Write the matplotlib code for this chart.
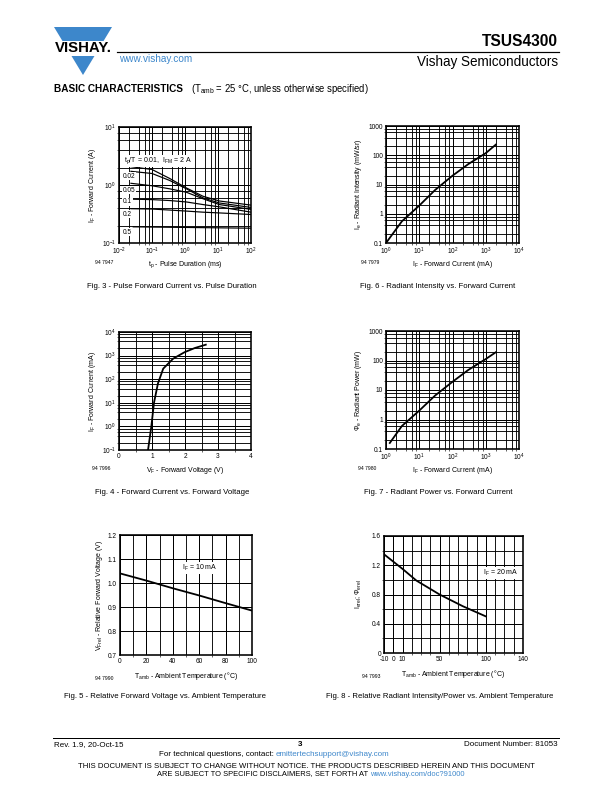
import numpy as np
import matplotlib.pyplot as plt
from matplotlib.patches import Polygon, Rectangle
from matplotlib.lines import Line2D
from matplotlib.ticker import FixedLocator, NullFormatter, FixedFormatter, LogLocator

plt.rcParams['font.family'] = ['Liberation Sans', 'DejaVu Sans']
plt.rcParams['mathtext.fontset'] = 'custom'
plt.rcParams['mathtext.rm'] = 'Liberation Sans'
plt.rcParams['mathtext.it'] = 'Liberation Sans'
plt.rcParams['axes.unicode_minus'] = False

W, H = 612, 792
BLUE = '#3d87cb'
LAB = 7      # axis label size
TICK = 6.5   # tick label size
CAP = 7.8    # caption size

# fig 3 - pulse forward current vs pulse duration
tp = [0.023, 0.1, 0.34, 1.1, 3.5, 11, 100]
if_001 = [2.07, 1.85, 1.30, 0.89, 0.64, 0.53, 0.45]
if_002 = [1.72, 1.58, 1.20, 0.86, 0.60, 0.49, 0.41]
if_005 = [1.07, 0.97, 0.86, 0.75, 0.58, 0.46, 0.38]
if_01 = [0.57, 0.56, 0.54, 0.51, 0.46, 0.42, 0.34]
if_02 = [0.39, 0.385, 0.37, 0.355, 0.34, 0.33, 0.31]
tp_05 = [0.027, 100]
if_05 = [0.19, 0.18]
duty_labels = ['0.02', '0.05', '0.1', '0.2', '0.5']

# fig 6 - radiant intensity vs forward current
ie_if = [1, 3, 10, 30, 100, 300, 1000, 2000]
ie = [0.1, 0.55, 1.9, 6.5, 20, 50, 118, 230]

# fig 4 - forward current vs forward voltage
vf = [0.88, 0.98, 1.06, 1.18, 1.34, 1.64, 1.99, 2.3, 2.63]
if_mA = [0.1, 1.0, 10, 66, 280, 740, 1400, 2100, 2900]

# fig 7 - radiant power vs forward current
pe_if = [1.3, 3, 10, 30, 100, 300, 1000, 2000]
pe = [0.16, 0.6, 2.0, 6.5, 19, 48, 112, 190]

# fig 5 - relative forward voltage vs ambient temperature
t5 = [0, 20, 40, 60, 80, 100]
vf_rel = [1.04, 1.01, 0.978, 0.948, 0.916, 0.885]

# fig 8 - relative radiant intensity/power vs ambient temperature
t8 = [-10, 0, 10, 25, 50, 75, 100]
ie_rel = [1.35, 1.25, 1.15, 0.99, 0.80, 0.64, 0.50]

fig = plt.figure(figsize=(W / 72, H / 72), dpi=72)


def px(x, y):
    return x / W, 1 - y / H


def axes_px(l, t, r, b):
    ax = fig.add_axes([l / W, 1 - b / H, (r - l) / W, (b - t) / H])
    for s in ax.spines.values():
        s.set_linewidth(1.6)
    ax.tick_params(length=0, labelsize=TICK, pad=3)
    ax.grid(True, which='major', color='black', lw=1.0)
    ax.grid(True, which='minor', color='black', lw=0.9)
    ax.set_axisbelow(True)
    return ax


def log_grid(axis):
    # datasheet grids only draw 2, 4, 6, 8 within each decade
    axis.set_minor_locator(LogLocator(base=10, subs=[2, 4, 6, 8], numticks=20))
    axis.set_minor_formatter(NullFormatter())


def ftext(x, y, s, **kw):
    fig.text(*px(x, y), s, **kw)


# ---- header ----
fig.patches.append(Polygon([px(54, 27), px(112, 27), px(83, 75)], closed=True,
                           facecolor=BLUE, edgecolor='none', transform=fig.transFigure))
fig.patches.append(Rectangle(px(50, 56), 64 / W, 15 / H, facecolor='white',
                             edgecolor='none', transform=fig.transFigure))
ftext(83, 48.5, 'VISHAY.', ha='center', va='center', fontsize=15,
      fontweight='bold', color='black')
fig.lines.append(Line2D([117 / W, 559 / W], [1 - 52 / H] * 2, color='black',
                        lw=1.2, transform=fig.transFigure))
ftext(558, 41, 'TSUS4300', ha='right', va='center', fontsize=15.5, fontweight='bold')
ftext(558, 62, 'Vishay Semiconductors', ha='right', va='center', fontsize=13.5)
ftext(119, 59, 'www.vishay.com', ha='left', va='center', fontsize=10, color=BLUE)
ftext(54, 89, 'BASIC CHARACTERISTICS', ha='left', va='center', fontsize=10,
      fontweight='bold')
ftext(191, 89, r'(T$_\mathregular{amb}$ = 25 °C, unless otherwise specified)',
      ha='left', va='center', fontsize=9.5)

# ---- fig 3 ----
ax = axes_px(119, 127, 251, 243)
ax.set_xscale('log')
ax.set_yscale('log')
ax.set_xlim(1e-2, 1e2)
ax.set_ylim(1e-1, 1e1)
log_grid(ax.xaxis)
log_grid(ax.yaxis)
for y in [if_001, if_002, if_005, if_01, if_02]:
    ax.plot(tp, y, color='black', lw=1.2)
ax.plot(tp_05, if_05, color='black', lw=1.2)
ax.set_ylabel(r'I$_\mathregular{F}$ - Forward Current (A)', fontsize=LAB, labelpad=4)
ax.set_xlabel(r't$_\mathregular{p}$ - Pulse Duration (ms)', fontsize=LAB, labelpad=2)
bb = dict(facecolor='white', edgecolor='none', pad=0.6)
ftext(124, 161, r't$_\mathregular{p}$/T = 0.01,  I$_\mathregular{FM}$ = 2 A', fontsize=7,
      va='center', bbox=bb)
for lab, yy in zip(duty_labels, [176, 190, 202, 214, 232]):
    ftext(123, yy, lab, fontsize=6.5, va='center', bbox=bb)
ftext(95, 263, '94 7947', fontsize=5, va='center')
ftext(172, 287, 'Fig. 3 - Pulse Forward Current vs. Pulse Duration', ha='center',
      va='center', fontsize=CAP)

# ---- fig 6 ----
ax = axes_px(386, 126, 519, 243)
ax.set_xscale('log')
ax.set_yscale('log')
ax.set_xlim(1, 1e4)
ax.set_ylim(0.1, 1000)
log_grid(ax.xaxis)
log_grid(ax.yaxis)
ax.yaxis.set_major_locator(FixedLocator([0.1, 1, 10, 100, 1000]))
ax.yaxis.set_major_formatter(FixedFormatter(['0.1', '1', '10', '100', '1000']))
ax.plot(ie_if, ie, color='black', lw=1.8)
ax.set_ylabel(r'I$_\mathregular{e}$ - Radiant Intensity (mW/sr)', fontsize=LAB, labelpad=4)
ax.set_xlabel(r'I$_\mathregular{F}$ - Forward Current (mA)', fontsize=LAB, labelpad=2)
ftext(361, 263, '94 7979', fontsize=5, va='center')
ftext(438, 287, 'Fig. 6 - Radiant Intensity vs. Forward Current', ha='center',
      va='center', fontsize=CAP)

# ---- fig 4 ----
ax = axes_px(119, 332, 251, 450)
ax.set_yscale('log')
ax.set_xlim(0, 4)
ax.set_ylim(0.1, 1e4)
log_grid(ax.yaxis)
ax.xaxis.set_major_locator(FixedLocator([0, 1, 2, 3, 4]))
ax.xaxis.set_minor_locator(FixedLocator([0.5, 1.5, 2.5, 3.5]))
ax.plot(vf, if_mA, color='black', lw=1.8)
ax.set_ylabel(r'I$_\mathregular{F}$ - Forward Current (mA)', fontsize=LAB, labelpad=4)
ax.set_xlabel(r'V$_\mathregular{F}$ - Forward Voltage (V)', fontsize=LAB, labelpad=5)
ftext(92, 468, '94 7996', fontsize=5, va='center')
ftext(172, 492, 'Fig. 4 - Forward Current vs. Forward Voltage', ha='center',
      va='center', fontsize=CAP)

# ---- fig 7 ----
ax = axes_px(386, 331, 519, 449)
ax.set_xscale('log')
ax.set_yscale('log')
ax.set_xlim(1, 1e4)
ax.set_ylim(0.1, 1000)
log_grid(ax.xaxis)
log_grid(ax.yaxis)
ax.yaxis.set_major_locator(FixedLocator([0.1, 1, 10, 100, 1000]))
ax.yaxis.set_major_formatter(FixedFormatter(['0.1', '1', '10', '100', '1000']))
ax.plot(pe_if, pe, color='black', lw=1.8)
ax.set_ylabel(r'$\Phi_\mathregular{e}$ - Radiant Power (mW)', fontsize=LAB, labelpad=4)
ax.set_xlabel(r'I$_\mathregular{F}$ - Forward Current (mA)', fontsize=LAB, labelpad=2)
ftext(358, 468, '94 7980', fontsize=5, va='center')
ftext(438, 492, 'Fig. 7 - Radiant Power vs. Forward Current', ha='center',
      va='center', fontsize=CAP)

# ---- fig 5 ----
ax = axes_px(120, 535, 252, 655)
ax.set_xlim(0, 100)
ax.set_ylim(0.7, 1.2)
ax.xaxis.set_major_locator(FixedLocator([0, 20, 40, 60, 80, 100]))
ax.xaxis.set_minor_locator(FixedLocator([10, 30, 50, 70, 90]))
ax.yaxis.set_major_locator(FixedLocator([0.7, 0.8, 0.9, 1.0, 1.1, 1.2]))
ax.set_yticklabels(['0.7', '0.8', '0.9', '1.0', '1.1', '1.2'])
ax.plot(t5, vf_rel, color='black', lw=1.8)
ax.set_ylabel(r'V$_\mathregular{F rel}$ - Relative Forward Voltage (V)', fontsize=LAB, labelpad=3)
ax.set_xlabel(r'T$_\mathregular{amb}$ - Ambient Temperature (°C)', fontsize=LAB, labelpad=5)
ftext(182, 568, r'I$_\mathregular{F}$ = 10 mA', fontsize=7, va='center', bbox=bb)
ftext(95, 679, '94 7990', fontsize=5, va='center')
ftext(165, 696, 'Fig. 5 - Relative Forward Voltage vs. Ambient Temperature', ha='center',
      va='center', fontsize=CAP)

# ---- fig 8 ----
ax = axes_px(384, 536, 523, 653)
ax.set_xlim(-10, 140)
ax.set_ylim(0, 1.6)
ax.xaxis.set_major_locator(FixedLocator([-10, 0, 10, 50, 100, 140]))
ax.xaxis.set_minor_locator(FixedLocator([20, 30, 40, 60, 70, 80, 90, 110, 120, 130]))
ax.yaxis.set_major_locator(FixedLocator([0, 0.4, 0.8, 1.2, 1.6]))
ax.yaxis.set_minor_locator(FixedLocator([0.2, 0.6, 1.0, 1.4]))
ax.set_yticklabels(['0', '0.4', '0.8', '1.2', '1.6'])
ax.plot(t8, ie_rel, color='black', lw=1.8)
ax.set_ylabel(r'I$_\mathregular{e rel}$; $\Phi_\mathregular{e rel}$', fontsize=LAB, labelpad=8)
ax.set_xlabel(r'T$_\mathregular{amb}$ - Ambient Temperature (°C)', fontsize=LAB, labelpad=5)
ftext(483, 573, r'I$_\mathregular{F}$ = 20 mA', fontsize=7, va='center', bbox=bb)
ftext(362, 677, '94 7993', fontsize=5, va='center')
ftext(440, 696, 'Fig. 8 - Relative Radiant Intensity/Power vs. Ambient Temperature',
      ha='center', va='center', fontsize=CAP)

# ---- footer ----
fig.lines.append(Line2D([53 / W, 559 / W], [1 - 738 / H] * 2, color='black',
                        lw=1.0, transform=fig.transFigure))
ftext(54, 745, 'Rev. 1.9, 20-Oct-15', fontsize=8, va='center')
ftext(300, 745, '3', fontsize=8, va='center', ha='center', fontweight='bold')
ftext(558, 745, 'Document Number: 81053', fontsize=8, va='center', ha='right')
ftext(276, 755, 'For technical questions, contact: ', fontsize=8, va='center', ha='right')
ftext(276, 755, 'emittertechsupport@vishay.com', fontsize=8, va='center', ha='left',
      color=BLUE)
ftext(306, 766, 'THIS DOCUMENT IS SUBJECT TO CHANGE WITHOUT NOTICE. THE PRODUCTS DESCRIBED HEREIN AND THIS DOCUMENT',
      fontsize=7.8, va='center', ha='center')
ftext(370, 774, 'ARE SUBJECT TO SPECIFIC DISCLAIMERS, SET FORTH AT ', fontsize=7.5,
      va='center', ha='right')
ftext(370, 774, 'www.vishay.com/doc?91000', fontsize=7.5, va='center', ha='left', color=BLUE)

fig.savefig('out.png', dpi=72)
